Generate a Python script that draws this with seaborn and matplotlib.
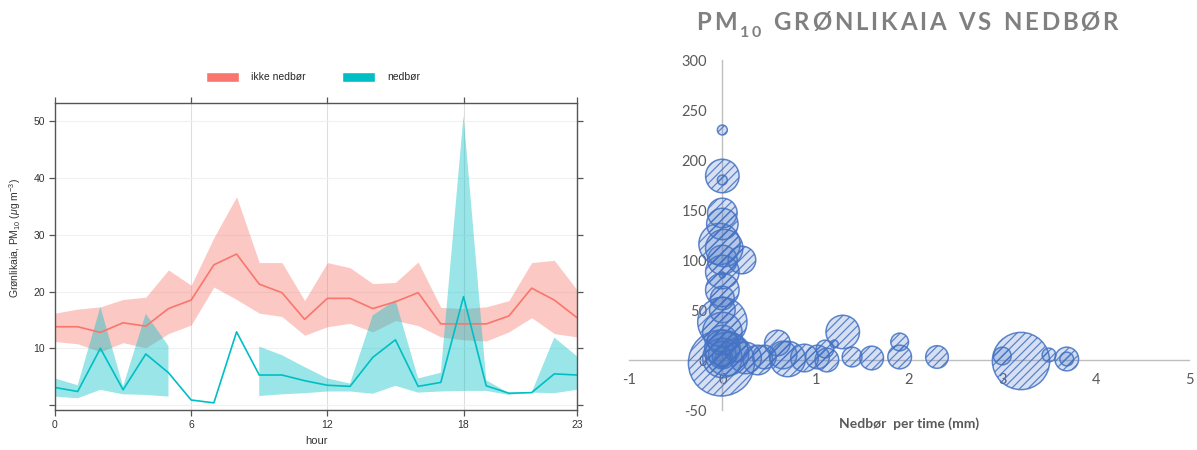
import numpy as np
import pandas as pd
import matplotlib
matplotlib.use("Agg")
import matplotlib.pyplot as plt
import seaborn as sns
from matplotlib.patches import Patch

nan = np.nan

# ---------------- left panel data (hourly PM10, Grønlikaia) ----------------
hours = list(range(24))
dry_mean = [13.8, 13.8, 12.8, 14.5, 13.9, 17.0, 18.5, 24.7, 26.6, 21.3, 19.8, 15.1,
            18.8, 18.8, 17.0, 18.2, 19.8, 14.3, 14.3, 14.3, 15.7, 20.6, 18.5, 15.4]
dry_lower = [11.2, 10.8, 9.4, 11.0, 10.1, 12.6, 14.1, 20.8, 18.6, 16.2, 15.6, 12.3,
             13.8, 14.4, 12.9, 14.9, 14.0, 12.0, 11.5, 11.3, 12.9, 15.4, 12.6, 12.0]
dry_upper = [16.2, 16.9, 17.3, 18.6, 19.0, 23.8, 21.1, 29.5, 36.7, 25.1, 25.1, 18.4,
             25.1, 24.2, 21.4, 21.6, 25.2, 17.2, 17.0, 17.3, 18.4, 25.1, 25.5, 20.3]
wet_mean = [3.1, 2.4, 10.0, 2.7, 9.0, 5.7, 0.9, 0.4, 12.9, 5.3, 5.3, 4.3,
            3.5, 3.3, 8.4, 11.5, 3.3, 4.0, 19.1, 3.4, 2.1, 2.2, 5.5, 5.3]
wet_lower = [1.5, 1.2, 2.7, 1.9, 1.8, 1.5, nan, nan, nan, 1.6, 1.9, 2.1,
             2.4, 2.4, 2.0, 3.4, 2.2, 2.4, 2.5, 2.5, 1.8, 2.2, 2.1, 2.7]
wet_upper = [4.7, 3.5, 17.3, 3.3, 16.1, 10.4, nan, nan, nan, 10.3, 8.8, 6.7,
             4.7, 3.8, 15.8, 18.5, 4.7, 5.7, 51.0, 4.4, 2.1, 2.2, 11.9, 8.6]
legend_labels = ["ikke nedbør", "nedbør"]
x_ticks_left = [0, 6, 12, 18, 23]
y_ticks_left = [0, 10, 20, 30, 40, 50]

# ---------------- right panel data (bubble chart) ----------------
rain_mm = [0.00, 0.00, 0.00, 0.00, 0.00, -0.03, 0.02, 0.00, 0.21, 0.00, 0.00, 0.00,
           0.00, 0.00, 0.00, 0.00, 0.00, 0.00, 0.00, 0.00, 0.00, 0.00, -0.01, 0.05,
           0.25, 0.38, 0.15, 0.45, 0.59, 0.70, 0.65, 0.88, 1.02, 1.10, 1.12, 1.20,
           1.29, 1.39, 1.60, 1.90, 1.90, 2.30, 3.00, 3.20, 3.50, 3.69, 3.69]
pm10_val = [230, 184, 180, 147, 136, 116, 112, 100, 100, 88, 85, 70,
            62, 50, 38, 28, 20, 12, 5, 3, 2, 0, -3, 6,
            2, 0, 10, 3, 17, 1, 5, 2, 3, 11, 0, 16,
            28, 3, 2, 18, 3, 3, 4, -1, 5, 1, 1]
bubble_size = [2.2, 25, 2.2, 19.5, 22, 38, 31, 19.5, 17, 25, 0.8, 25,
               12.5, 14.6, 54, 34.6, 19.5, 28, 17, 8.7, 34.6, 5.5, 97, 42,
               22, 19.5, 12.5, 12.5, 14.6, 28, 17, 17, 12.5, 7, 12.5, 1.4,
               25, 8.7, 12.5, 7, 12.5, 11.4, 7, 73, 4.2, 12.5, 4.2]
x_ticks_right = [-1, 0, 1, 2, 3, 4, 5]
y_ticks_right = [-50, 0, 50, 100, 150, 200, 250, 300]

sns.set_theme(style="white")
plt.rcParams["font.family"] = ["Liberation Sans", "DejaVu Sans"]
plt.rcParams["mathtext.fontset"] = "custom"
plt.rcParams["mathtext.rm"] = "Liberation Sans"
plt.rcParams["mathtext.it"] = "Liberation Sans:italic"
plt.rcParams["hatch.linewidth"] = 0.9
plt.rcParams["axes.unicode_minus"] = False

W, H = 1197, 450
fig = plt.figure(figsize=(W / 100, H / 100), dpi=100)

RED = "#F8766D"
TEAL = "#00BFC4"

# ======================= left panel =======================
ax1 = fig.add_axes([55 / W, 1 - 410 / H, (577 - 55) / W, (410 - 103) / H])
ax1.set_xlim(0, 23)
ax1.set_ylim(-0.86, 53.2)
ax1.set_xticks(x_ticks_left)
ax1.set_yticks(y_ticks_left)
ax1.set_yticklabels([""] + [str(v) for v in y_ticks_left[1:]])
ax1.grid(axis="x", color="#dedede", lw=0.8)
ax1.grid(axis="y", color="#f0f0f0", lw=0.8)
ax1.set_axisbelow(True)

ax1.fill_between(hours, dry_lower, dry_upper, color=RED, alpha=0.4, lw=0)
ax1.fill_between(hours, wet_lower, wet_upper, color=TEAL, alpha=0.4, lw=0)
sns.lineplot(x=hours, y=dry_mean, color=RED, lw=1.2, ax=ax1)
sns.lineplot(x=hours, y=wet_mean, color=TEAL, lw=1.2, ax=ax1)

for s in ax1.spines.values():
    s.set_color("#555555")
    s.set_linewidth(1.0)
ax1.tick_params(direction="out", length=4, width=0.9, color="#555555",
                top=True, right=True, bottom=True, left=True,
                labeltop=False, labelright=False,
                labelsize=7.5, labelcolor="#333333", pad=3)
ax1.set_xlabel("hour", fontsize=8, color="#333333")
ax1.xaxis.set_label_coords(0.5, -0.085)
ax1.set_ylabel("Grønlikaia, PM$_{10}$ ($\\mu$g m$^{-3}$)", fontsize=7.5, color="#333333")
ax1.yaxis.set_label_coords(-0.062, 0.56)

handles = [Patch(facecolor=RED, label=legend_labels[0]),
           Patch(facecolor=TEAL, label=legend_labels[1])]
ax1.legend(handles=handles, loc="center", bbox_to_anchor=(313 / W, 1 - 77 / H),
           bbox_transform=fig.transFigure, ncol=2, frameon=False, fontsize=7.5,
           handlelength=3.2, handleheight=1.1, handletextpad=1.2, columnspacing=3.4)

# ======================= right panel =======================
ax2 = fig.add_axes([629 / W, 1 - 410 / H, (1189 - 629) / W, 350 / H])
df = pd.DataFrame({"rain": rain_mm, "pm10": pm10_val, "size": bubble_size})
r_max_px = 33.5
s_max = (2 * r_max_px * 0.72) ** 2
sns.scatterplot(data=df, x="rain", y="pm10", size="size", sizes=(0, s_max),
                size_norm=(0, 100), legend=False, ax=ax2,
                color=(0.27, 0.45, 0.77, 0.22), edgecolor=(0.267, 0.447, 0.769, 0.85),
                linewidth=1.1, hatch="////", zorder=3)
ax2.set_xlim(-1, 5)
ax2.set_ylim(-50, 300)
ax2.set_xticks(x_ticks_right)
ax2.set_yticks(y_ticks_right)
ax2.set_xlabel("")
ax2.set_ylabel("")
for k in ["top", "right"]:
    ax2.spines[k].set_visible(False)
ax2.spines["left"].set_position(("data", 0))
ax2.spines["bottom"].set_position(("data", 0))
for k in ["left", "bottom"]:
    ax2.spines[k].set_color("#BFBFBF")
    ax2.spines[k].set_linewidth(1.0)
    ax2.spines[k].set_zorder(1)
ax2.tick_params(length=0, labelsize=10.5, labelcolor="#595959")
ax2.tick_params(axis="y", pad=11)
ax2.tick_params(axis="x", pad=9)
for lab in ax2.get_xticklabels() + ax2.get_yticklabels():
    lab.set_family(["Lato", "DejaVu Sans"])
ax2.patch.set_alpha(0)

fig.text(909 / W, 1 - 424 / H, "Nedbør  per time (mm)", ha="center", va="center",
         fontsize=10, fontweight="bold", color="#595959", family=["Lato", "DejaVu Sans"])

# title with wide letter spacing
renderer = fig.canvas.get_renderer()
TCOL = "#808080"
tkw = dict(fontweight="bold", color=TCOL, family=["Lato", "DejaVu Sans"], va="baseline", ha="left")


def char_widths(s, size):
    ws = []
    for ch in s:
        if ch == " ":
            ws.append(size * 100 / 72 * 0.26)
            continue
        t = fig.text(0, 0, ch, fontsize=size, **tkw)
        ws.append(t.get_window_extent(renderer).width)
        t.remove()
    return ws


def draw_tracked(s, x0, x1, ybase, size):
    ws = char_widths(s, size)
    track = (x1 - x0 - sum(ws)) / max(len(s) - 1, 1)
    x = x0
    for ch, w in zip(s, ws):
        if ch != " ":
            fig.text(x / W, 1 - ybase / H, ch, fontsize=size, **tkw)
        x += w + track


draw_tracked("PM", 696, 737, 30, 17.3)
draw_tracked("10", 740, 761, 36.7, 11.5)
draw_tracked("GRØNLIKAIA VS NEDBØR", 773, 1118, 30, 17.3)

fig.savefig("out.png", dpi=100)
